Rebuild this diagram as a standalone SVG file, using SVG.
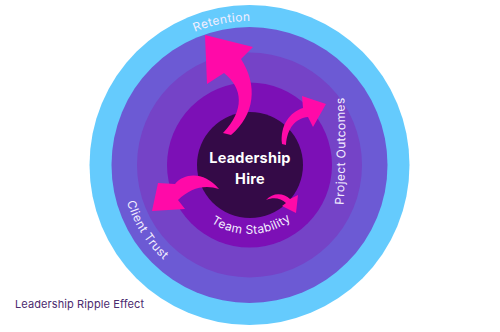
<svg xmlns="http://www.w3.org/2000/svg" width="500" height="332" viewBox="0 0 500 332">
  <style>
    .ring-label { font-family: Inter, "Open Sans", "Liberation Sans", sans-serif; font-size: 12px; letter-spacing: 0.4px; fill: #f3eeff; }
    .hire { font-family: Inter, "Open Sans", "Liberation Sans", sans-serif; font-size: 14.5px; font-weight: 700; fill: #ffffff; letter-spacing: 0.2px; }
    .title { font-family: Inter, "Open Sans", "Liberation Sans", sans-serif; font-size: 11px; letter-spacing: 0.1px; fill: #4b2a6e; }
    .arrow { fill: #ff0aa8; }
  </style>
  <defs>
    <path id="p-retention" d="M 105.5,165 A 144 144 0 0 1 393.5,165"/>
    <path id="p-team" d="M 180.5,165 A 69 69 0 0 0 318.5,165"/>
    <path id="p-client" d="M 249.5,37 A 128 128 0 0 0 249.5,293"/>
    <path id="p-project" d="M 343,212 Q 347,152 344,90"/>
  </defs>
  <rect width="500" height="332" fill="#ffffff"/>

  <g id="ring-retention">
    <circle cx="249.5" cy="165" r="160" fill="#65cbfd"/>
  </g>
  <g id="ring-client-trust">
    <circle cx="249.5" cy="165" r="138" fill="#6c5ad4"/>
  </g>
  <g id="ring-project-outcomes">
    <circle cx="249.5" cy="165" r="112.5" fill="#7543c7"/>
  </g>
  <g id="ring-team-stability">
    <circle cx="249.5" cy="165" r="82.5" fill="#7c10b6"/>
  </g>
  <g id="leadership-hire">
    <circle cx="250" cy="165" r="53" fill="#340a47"/>
    <text class="hire" x="250" y="163" text-anchor="middle">Leadership</text>
    <text class="hire" x="250" y="184" text-anchor="middle">Hire</text>
  </g>

  <g id="connectors">
    <path class="arrow" d="M 223,133 C 245,110 243,88 224,73 L 207,84 L 205,35 L 253,47 L 241,59 C 258,85 255,115 231,135 Z"/>
    <path class="arrow" d="M 282,144 C 280,125 290,112 303,108 L 302,96 L 326,104 L 313,127 L 308,117 C 296,118 287,128 286,145 Z"/>
    <path class="arrow" d="M 219,189 C 205,172 185,172 175,184 L 158,183 L 152,211 L 185,209 L 178,200 C 190,188 205,184 219,189 Z"/>
    <path class="arrow" d="M 266,200 C 273,192 284,193 290,199 L 298,195 L 296,213 L 282,206 L 286,203 C 281,198 273,197 266,200 Z"/>
  </g>

  <g id="labels">
    <text class="ring-label"><textPath href="#p-retention" startOffset="43.9%" text-anchor="middle">Retention</textPath></text>
    <text class="ring-label"><textPath href="#p-team" startOffset="51%" text-anchor="middle">Team Stability</textPath></text>
    <text class="ring-label"><textPath href="#p-client" startOffset="68%" text-anchor="middle">Client Trust</textPath></text>
    <text class="ring-label"><textPath href="#p-project" startOffset="50%" text-anchor="middle">Project Outcomes</textPath></text>
  </g>

  <g id="title">
    <text class="title" x="15" y="308">Leadership Ripple Effect</text>
  </g>
</svg>
